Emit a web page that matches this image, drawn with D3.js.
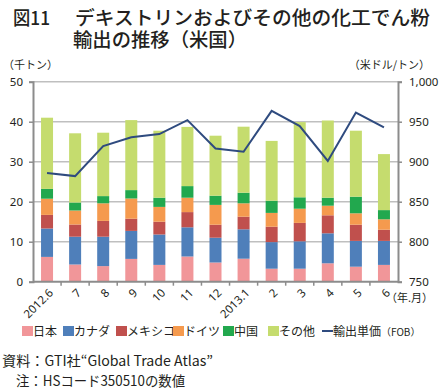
<!DOCTYPE html>
<html><head><meta charset="utf-8">
<script src="https://cdn.jsdelivr.net/npm/d3@7"></script>
<style>
body{margin:0;background:#fff;}
text{font-family:"Noto Sans CJK JP","Noto Sans",sans-serif;fill:#231f20;}
</style></head>
<body><svg id="c" width="441" height="390"></svg>
<script>
const categories = ["2012.6","7","8","9","10","11","12","2013.1","2","3","4","5","6"];
const japan   = [6.2,4.3,3.9,5.7,4.2,6.3,4.8,5.75,3.25,3.25,4.6,3.75,4.2];
const canada  = [7.1,6.95,7.35,7.0,7.6,7.3,6.2,7.35,6.65,6.85,7.5,6.45,6.0];
const mexico  = [3.4,3.05,3.95,3.05,3.2,3.8,3.25,3.15,3.85,4.6,4.5,4.05,2.8];
const germany = [4.05,3.5,4.4,5.05,3.7,3.6,4.95,3.35,3.45,3.55,2.4,2.85,2.6];
const china   = [2.45,2.0,1.8,2.1,2.3,2.9,2.3,2.65,3.05,2.85,2.0,4.15,2.3];
const others  = [17.8,17.3,15.85,17.5,16.75,14.8,15.0,16.5,14.95,18.8,19.3,16.5,14.0];
const unitPrice = [886,882,919.5,930.5,934.5,952,916.5,912.5,963.5,944.5,901,961.5,943];
const seriesNames = ["日本","カナダ","メキシコ","ドイツ","中国","その他"];
const lineName = "輸出単価";
const leftTicks = [0,10,20,30,40,50];
const rightTicks = [750,800,850,900,950,1000];
const colors = ["#f19699","#4f7fba","#c0504d","#f59a4e","#22a84e","#c5dc6e"];

const svg = d3.select("#c");
const L = 33, R = 398, T = 81.7, B = 281.7;

const x = d3.scaleBand().domain(categories).range([L, R]).padding(0);
const y = d3.scaleLinear().domain([0,50]).range([B, T]);
const y2 = d3.scaleLinear().domain([750,1000]).range([B, T]);

// Title
const tg = svg.append("g").style("font-weight","500").style("font-size","19px");
tg.append("text").attr("x",13).attr("y",25).attr("textLength",37).attr("lengthAdjust","spacingAndGlyphs").text("図11");
tg.append("text").attr("x",75).attr("y",25).attr("textLength",355).attr("lengthAdjust","spacingAndGlyphs").text("デキストリンおよびその他の化工でん粉");
tg.append("text").attr("x",73).attr("y",47).attr("textLength",174).attr("lengthAdjust","spacingAndGlyphs").text("輸出の推移（米国）");

// Axis titles
svg.append("text").attr("x",3).attr("y",69).style("font-size","11px").text("（千トン）");
svg.append("text").attr("x",430).attr("y",69).attr("text-anchor","end").style("font-size","11px").text("（米ドル/トン）");

// gridlines
svg.append("g").selectAll("line").data(leftTicks.filter(d=>d>0)).join("line")
  .attr("x1",L).attr("x2",R).attr("y1",d=>y(d)).attr("y2",d=>y(d))
  .attr("stroke","#bfbfbf").attr("stroke-width",1.4);

// stacked bars
const rows = categories.map((c,i)=>({cat:c, s0:japan[i], s1:canada[i], s2:mexico[i], s3:germany[i], s4:china[i], s5:others[i]}));
const stack = d3.stack().keys(["s0","s1","s2","s3","s4","s5"])(rows);
const barW = 12;
svg.append("g").selectAll("g").data(stack).join("g").attr("fill",(d,i)=>colors[i])
  .selectAll("rect").data(d=>d).join("rect")
  .attr("x",d=>x(d.data.cat)+(x.bandwidth()-barW)/2)
  .attr("width",barW)
  .attr("y",d=>y(d[1]))
  .attr("height",d=>y(d[0])-y(d[1]));

// left axis
const la = svg.append("g").attr("transform",`translate(${L},0)`)
  .call(d3.axisLeft(y).tickValues(leftTicks).tickSize(4).tickPadding(6));
la.select(".domain").attr("stroke","#8c8c8c").attr("stroke-width",2);
la.selectAll(".tick line").attr("stroke","#8c8c8c").attr("stroke-width",1.5);
la.selectAll("text").style("font-size","11.5px").style("font-family","'Noto Sans',sans-serif").attr("fill","#231f20");

// right axis
const ra = svg.append("g").attr("transform",`translate(${R},0)`)
  .call(d3.axisRight(y2).tickValues(rightTicks).tickSize(4).tickPadding(7).tickFormat(d3.format(",")));
ra.select(".domain").attr("stroke","#8c8c8c").attr("stroke-width",2);
ra.selectAll(".tick line").attr("stroke","#8c8c8c").attr("stroke-width",1.5);
ra.selectAll("text").style("font-size","11.5px").style("font-family","'Noto Sans',sans-serif").attr("fill","#231f20");

// bottom axis
svg.append("line").attr("x1",L).attr("x2",R).attr("y1",B).attr("y2",B).attr("stroke","#8c8c8c").attr("stroke-width",2);
svg.append("g").selectAll("line").data(categories.slice(1)).join("line")
  .attr("x1",d=>x(d)).attr("x2",d=>x(d)).attr("y1",B).attr("y2",B+4)
  .attr("stroke","#8c8c8c").attr("stroke-width",1.5);
svg.append("g").selectAll("text").data(categories).join("text")
  .attr("transform",d=>`translate(${x(d)+x.bandwidth()/2+4},${B+9}) rotate(-45)`)
  .attr("text-anchor","end").attr("dy","0.35em")
  .style("font-size","11.5px").style("font-family","'Noto Sans',sans-serif").text(d=>d);
svg.append("text").attr("x",386).attr("y",301.5).style("font-size","11px").text("（年.月）");

// line
svg.append("path").datum(unitPrice)
  .attr("fill","none").attr("stroke","#2f4b7f").attr("stroke-width",2)
  .attr("d",d3.line().x((d,i)=>x(categories[i])+x.bandwidth()/2).y(d=>y2(d)));

// legend
const lx = [22,63,116,173,223,268];
const lg = svg.append("g").style("font-size","12px");
seriesNames.forEach((n,i)=>{
  lg.append("rect").attr("x",lx[i]).attr("y",326).attr("width",11).attr("height",10).attr("fill",colors[i]);
  lg.append("text").attr("x",lx[i]+11).attr("y",336).text(n);
});
lg.append("line").attr("x1",322).attr("x2",333).attr("y1",331).attr("y2",331).attr("stroke","#2f4b7f").attr("stroke-width",2);
lg.append("text").attr("x",333).attr("y",336).text(lineName);
lg.append("text").attr("x",381).attr("y",336).style("font-size","10px").text("（FOB）");

// footnotes
svg.append("text").attr("x",2).attr("y",366).style("font-size","14px").attr("textLength",211).attr("lengthAdjust","spacingAndGlyphs").text("資料：GTI社“Global Trade Atlas”");
svg.append("text").attr("x",16).attr("y",386).style("font-size","14px").attr("textLength",169).attr("lengthAdjust","spacingAndGlyphs").text("注：HSコード350510の数値");
</script></body></html>
